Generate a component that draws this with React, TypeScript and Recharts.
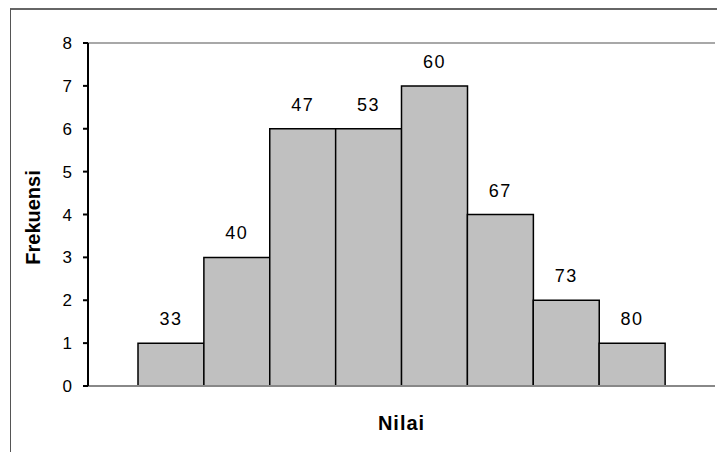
import React from 'react';
import { BarChart, Bar, XAxis, YAxis, LabelList, Label, ReferenceLine } from 'recharts';

// Class midpoints (Nilai) and their frequencies (Frekuensi)
const nilai = ['33', '40', '47', '53', '60', '67', '73', '80'];
const frekuensi = [1, 3, 6, 6, 7, 4, 2, 1];
const yTicks = [0, 1, 2, 3, 4, 5, 6, 7, 8];

const data = nilai.map((n, i) => ({ nilai: n, frekuensi: frekuensi[i] }));

const FONT = 'Arial, "Liberation Sans", sans-serif';

const YTitle = (props: any) => {
  const vb = props.viewBox || {};
  const cx = vb.x + 33;
  const cy = vb.y + vb.height / 2 + 3;
  return (
    <text
      x={cx}
      y={cy}
      transform={`rotate(-90, ${cx}, ${cy})`}
      textAnchor="middle"
      dominantBaseline="central"
      fontFamily={FONT}
      fontWeight="bold"
      fontSize={20}
      fill="#000"
    >
      Frekuensi
    </text>
  );
};

const XTitle = (props: any) => {
  const vb = props.viewBox || {};
  return (
    <text
      x={vb.x + vb.width / 2}
      y={vb.y + 44}
      textAnchor="middle"
      fontFamily={FONT}
      fontWeight="bold"
      fontSize={20}
      letterSpacing={1}
      fill="#000"
    >
      Nilai
    </text>
  );
};

export default function App() {
  return (
    <div style={{ position: 'absolute', left: 0, top: 0, width: 717, height: 452, background: '#fff' }}>
      <div
        style={{
          position: 'absolute',
          left: 10,
          top: 8,
          width: 720,
          height: 460,
          borderTop: '2px solid #666',
          borderLeft: '1px solid #555',
        }}
      />
      <div style={{ position: 'absolute', left: 0, top: 0 }}>
        <BarChart
          width={717}
          height={452}
          data={data}
          margin={{ top: 43, right: 2, bottom: 0, left: 0 }}
          barCategoryGap={0}
          style={{ fontFamily: FONT }}
        >
          <XAxis
            dataKey="nilai"
            tick={false}
            tickLine={false}
            height={66}
            padding={{ left: 50, right: 50 }}
            axisLine={{ stroke: '#888', strokeWidth: 2 }}
          >
            <Label content={XTitle} />
          </XAxis>
          <YAxis
            width={88}
            domain={[0, 8]}
            ticks={yTicks}
            interval={0}
            tickSize={5}
            tickMargin={11}
            tick={{ fill: '#000', fontSize: 17, fontFamily: FONT }}
            tickLine={{ stroke: '#000', strokeWidth: 2 }}
            axisLine={{ stroke: '#000', strokeWidth: 2 }}
          >
            <Label content={YTitle} />
          </YAxis>
          <YAxis
            yAxisId="frame"
            orientation="right"
            width={0}
            domain={[0, 8]}
            tick={false}
            tickLine={false}
            axisLine={{ stroke: '#a8a8a8', strokeWidth: 2 }}
          />
          <ReferenceLine y={8} stroke="#a8a8a8" strokeWidth={2} />
          <Bar
            dataKey="frekuensi"
            fill="#c0c0c0"
            stroke="#000"
            strokeWidth={1.5}
            isAnimationActive={false}
          >
            <LabelList
              dataKey="nilai"
              position="top"
              offset={18}
              fill="#000"
              fontSize={18}
              letterSpacing={1.5}
              fontFamily={FONT}
            />
          </Bar>
        </BarChart>
      </div>
    </div>
  );
}
